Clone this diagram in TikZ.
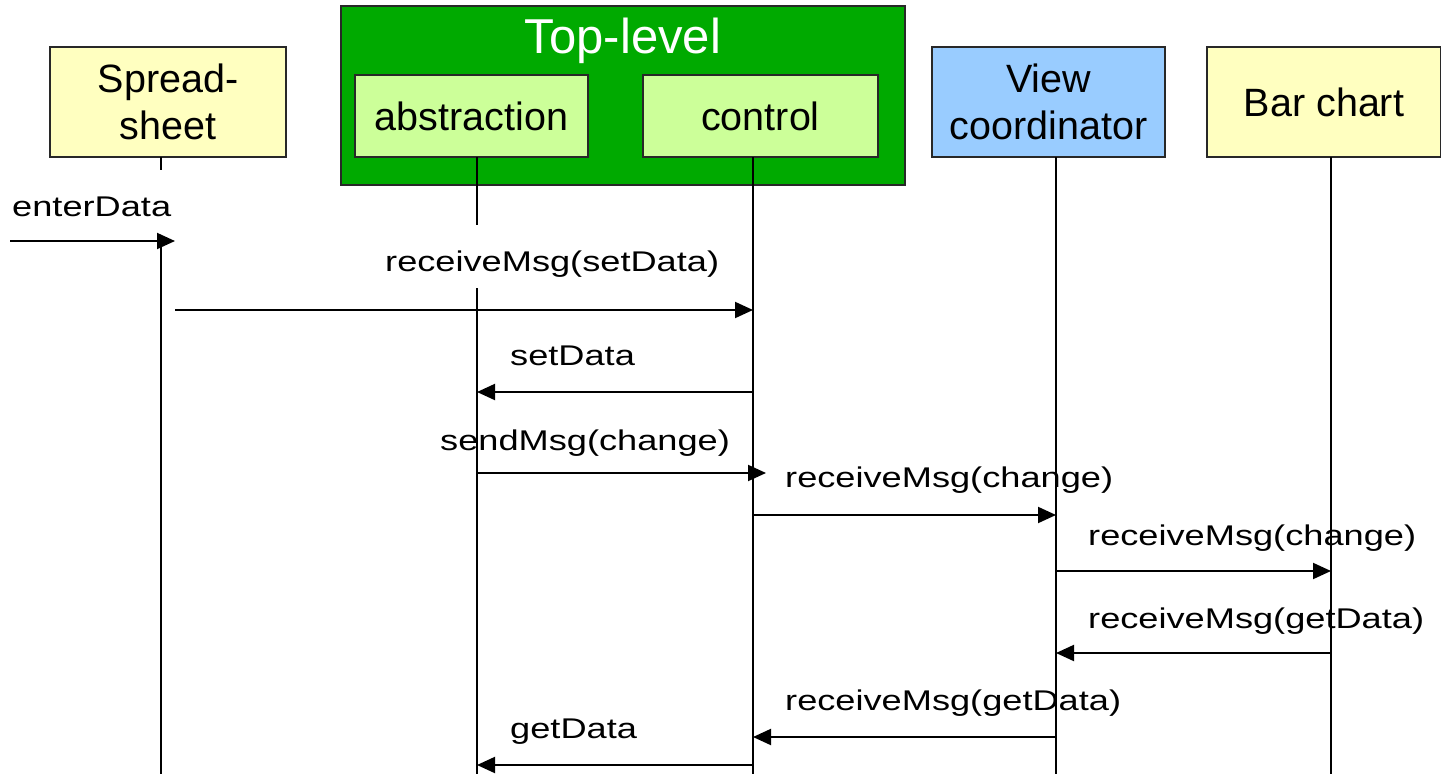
\documentclass[tikz,border=0pt]{standalone}
\usepackage{fontspec}
\setmainfont{Liberation Sans}
\newfontfamily\msgfont{Liberation Sans}[FakeStretch=1.27]
\usetikzlibrary{arrows.meta}

\definecolor{paleyellow}{RGB}{255,255,192}
\definecolor{palegreen}{RGB}{204,255,153}
\definecolor{darkgreen}{RGB}{0,170,0}
\definecolor{paleblue}{RGB}{153,204,255}
\definecolor{edgegray}{RGB}{40,40,40}

\begin{document}
\begin{tikzpicture}[x=1pt,y=-1pt,
  actor/.style={draw=edgegray, line width=2pt, minimum width=234pt,
    minimum height=110pt, inner sep=0pt, align=center,
    font=\fontsize{39.5}{47}\selectfont},
  part/.style={actor, fill=palegreen, minimum height=82pt},
  life/.style={line width=2pt, draw=black},
  msg/.style={line width=2pt, -{Triangle[length=18pt,width=16pt]}},
  lbl/.style={anchor=base west, inner sep=0pt,
    font=\msgfont\fontsize{28.5}{34}\selectfont},
]
\useasboundingbox (0,0) rectangle (1441,774);
\fill[white] (0,0) rectangle (1441,774);

% objects
\node[actor, fill=paleyellow, minimum width=236pt] (sheet) at (168,102) {Spread-\\sheet};
\node[draw=edgegray, line width=2pt, fill=darkgreen, minimum width=564pt,
      minimum height=179pt, inner sep=0pt] (top) at (623,95.5) {};
\node[anchor=base, text=white, inner sep=0pt, font=\fontsize{49}{58}\selectfont]
      (toplbl) at (623,53) {Top-level};
\node[part, minimum width=233pt] (abs) at (471.5,116) {abstraction};
\node[part, minimum width=235pt] (ctrl) at (760.5,116) {control};
\node[actor, fill=paleblue, minimum width=233pt] (view) at (1048.5,102) {View\\coordinator};
\node[actor, fill=paleyellow, minimum width=234pt] (bar) at (1324,102) {Bar chart};

% lifeline anchors (top and bottom)
\coordinate (sheetT) at (161,157); \coordinate (sheetB) at (161,774);
\coordinate (absT)   at (477,157); \coordinate (absB)   at (477,774);
\coordinate (ctrlT)  at (753,157); \coordinate (ctrlB)  at (753,774);
\coordinate (viewT)  at (1056,157);\coordinate (viewB)  at (1056,774);
\coordinate (barT)   at (1331,157);\coordinate (barB)   at (1331,774);

% message rows
\coordinate (r1) at (0,241);
\coordinate (r2) at (0,310);
\coordinate (r3) at (0,392);
\coordinate (r4) at (0,473);
\coordinate (r5) at (0,515);
\coordinate (r6) at (0,571);
\coordinate (r7) at (0,653);
\coordinate (r8) at (0,737);
\coordinate (r9) at (0,765);
\coordinate (src) at (10,241);

% lifelines (interrupted where a label sits on them)
\draw[life] (sheetT) -- ([yshift=-13pt]sheetT);
\draw[life] (sheetT |- r1) -- (sheetB);
\draw[life] (absT) -- ([yshift=-68pt]absT);
\draw[life] ([yshift=-131pt]absT) -- (absB);
\draw[life] (ctrlT) -- (ctrlB);
\draw[life] (viewT) -- (viewB);
\draw[life] (barT) -- (barB);

% messages
\draw[msg] (src) -- ([xshift=14pt]sheetT |- r1);
\draw[msg] ([xshift=14pt]sheetT |- r2) -- (ctrlT |- r2);
\draw[msg] (ctrlT |- r3) -- (absT |- r3);
\draw[msg] (absT |- r4) -- ([xshift=13pt]ctrlT |- r4);
\draw[msg] (ctrlT |- r5) -- (viewT |- r5);
\draw[msg] (viewT |- r6) -- (barT |- r6);
\draw[msg] (barT |- r7) -- (viewT |- r7);
\draw[msg] (viewT |- r8) -- (ctrlT |- r8);
\draw[msg] (ctrlT |- r9) -- (absT |- r9);

% message labels
\node[lbl] (l1) at (12,216)   {enterData};
\node[lbl] (l2) at (385,271)  {receiveMsg(setData)};
\node[lbl] (l3) at (510,365)  {setData};
\node[lbl] (l4) at (440,450)  {sendMsg(change)};
\node[lbl] (l5) at (785,487)  {receiveMsg(change)};
\node[lbl] (l6) at (1088,545) {receiveMsg(change)};
\node[lbl] (l7) at (1088,628) {receiveMsg(getData)};
\node[lbl] (l8) at (785,710)  {receiveMsg(getData)};
\node[lbl] (l9) at (510,738)  {getData};
\end{tikzpicture}
\end{document}
